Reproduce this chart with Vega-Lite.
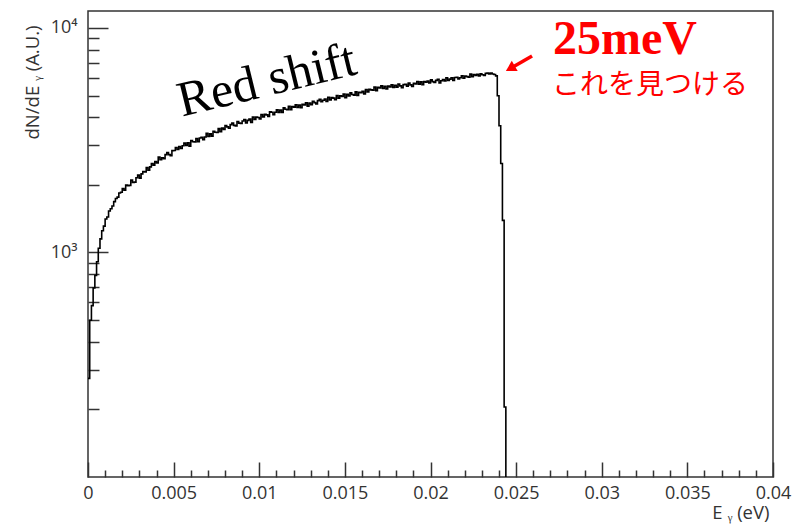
{
  "$schema": "https://vega.github.io/schema/vega-lite/v6.json",
  "width": 685,
  "height": 466,
  "autosize": {"type": "none"},
  "padding": {"left": 88, "top": 11, "right": 19, "bottom": 47},
  "background": "white",
  "config": {
    "view": {"stroke": "#333333", "strokeWidth": 1.5},
    "axis": {
      "domain": false,
      "grid": false,
      "tickColor": "#333333",
      "tickWidth": 1.5,
      "labelColor": "#333333",
      "labelFont": "Open Sans",
      "labelFontSize": 18,
      "titleColor": "#333333",
      "titleFont": "Open Sans",
      "titleFontSize": 18.5,
      "titleFontWeight": "normal"
    }
  },
  "encoding": {
    "x": {
      "field": "e",
      "type": "quantitative",
      "scale": {"domain": [0, 0.04], "nice": false, "zero": false},
      "axis": {
        "values": [0, 0.001, 0.002, 0.003, 0.004, 0.005, 0.006, 0.007, 0.008, 0.009, 0.01, 0.011, 0.012, 0.013, 0.014, 0.015, 0.016, 0.017, 0.018, 0.019, 0.02, 0.021, 0.022, 0.023, 0.024, 0.025, 0.026, 0.027, 0.028, 0.029, 0.03, 0.031, 0.032, 0.033, 0.034, 0.035, 0.036, 0.037, 0.038, 0.039, 0.04],
        "tickSize": {"condition": {"test": "abs(datum.value*200 - round(datum.value*200)) < 1e-6", "value": -15}, "value": -7},
        "labelExpr": "abs(datum.value*200 - round(datum.value*200)) < 1e-6 ? toString(round(datum.value*1000)/1000) : ''",
        "labelFlush": false,
        "labelOverlap": false,
        "labelPadding": 22,
        "title": "E ᵧ (eV)",
        "titleAnchor": "end",
        "titleAlign": "right",
        "titleBaseline": "alphabetic",
        "titleX": 681,
        "titleY": 41
      }
    },
    "y": {
      "field": "n",
      "type": "quantitative",
      "scale": {"type": "log", "domain": [100, 11900], "nice": false},
      "axis": {
        "values": [200, 300, 400, 500, 600, 700, 800, 900, 1000, 2000, 3000, 4000, 5000, 6000, 7000, 8000, 9000, 10000],
        "tickSize": {"condition": {"test": "datum.value == 1000 || datum.value == 10000", "value": -20}, "value": -11},
        "labelExpr": "datum.value == 10000 ? '10⁴' : datum.value == 1000 ? '10³' : ''",
        "labelOverlap": false,
        "labelPadding": 31,
        "title": "dN/dE ᵧ (A.U.)",
        "titleAngle": 270,
        "titleAlign": "right",
        "titleBaseline": "middle",
        "titleX": -56,
        "titleY": 14
      }
    }
  },
  "layer": [
    {
      "data": {
        "values": [
          {"e": 0.0000, "n": 275}, {"e": 0.0001, "n": 499}, {"e": 0.0002, "n": 580}, {"e": 0.0003, "n": 695},
          {"e": 0.0004, "n": 790}, {"e": 0.0005, "n": 910}, {"e": 0.0006, "n": 1045}, {"e": 0.0007, "n": 1150},
          {"e": 0.0008, "n": 1250}, {"e": 0.0009, "n": 1310}, {"e": 0.0010, "n": 1410}, {"e": 0.0011, "n": 1440},
          {"e": 0.0012, "n": 1530}, {"e": 0.0013, "n": 1565}, {"e": 0.0014, "n": 1610}, {"e": 0.0015, "n": 1685},
          {"e": 0.0016, "n": 1740}, {"e": 0.0017, "n": 1765}, {"e": 0.0018, "n": 1840}, {"e": 0.0019, "n": 1855},
          {"e": 0.0020, "n": 1924}, {"e": 0.0021, "n": 1893}, {"e": 0.0022, "n": 1999}, {"e": 0.0023, "n": 1985},
          {"e": 0.0024, "n": 1990}, {"e": 0.0025, "n": 2101}, {"e": 0.0026, "n": 2049}, {"e": 0.0027, "n": 2058},
          {"e": 0.0028, "n": 2151}, {"e": 0.0029, "n": 2213}, {"e": 0.0030, "n": 2144}, {"e": 0.0031, "n": 2240},
          {"e": 0.0032, "n": 2293}, {"e": 0.0033, "n": 2282}, {"e": 0.0034, "n": 2387}, {"e": 0.0035, "n": 2325},
          {"e": 0.0036, "n": 2405}, {"e": 0.0037, "n": 2489}, {"e": 0.0038, "n": 2450}, {"e": 0.0039, "n": 2540},
          {"e": 0.0040, "n": 2504}, {"e": 0.0041, "n": 2663}, {"e": 0.0042, "n": 2589}, {"e": 0.0043, "n": 2642},
          {"e": 0.0044, "n": 2617}, {"e": 0.0045, "n": 2727}, {"e": 0.0046, "n": 2785}, {"e": 0.0047, "n": 2729},
          {"e": 0.0048, "n": 2701}, {"e": 0.0049, "n": 2843}, {"e": 0.0050, "n": 2845}, {"e": 0.0051, "n": 2933},
          {"e": 0.0052, "n": 2876}, {"e": 0.0053, "n": 2964}, {"e": 0.0054, "n": 2906}, {"e": 0.0055, "n": 2988},
          {"e": 0.0056, "n": 3070}, {"e": 0.0057, "n": 3000}, {"e": 0.0058, "n": 3081}, {"e": 0.0059, "n": 2978},
          {"e": 0.0060, "n": 3152}, {"e": 0.0061, "n": 3112}, {"e": 0.0062, "n": 3104}, {"e": 0.0063, "n": 3221},
          {"e": 0.0064, "n": 3116}, {"e": 0.0065, "n": 3234}, {"e": 0.0066, "n": 3257}, {"e": 0.0067, "n": 3183},
          {"e": 0.0068, "n": 3270}, {"e": 0.0069, "n": 3394}, {"e": 0.0070, "n": 3287}, {"e": 0.0071, "n": 3375},
          {"e": 0.0072, "n": 3298}, {"e": 0.0073, "n": 3466}, {"e": 0.0074, "n": 3430}, {"e": 0.0075, "n": 3425},
          {"e": 0.0076, "n": 3560}, {"e": 0.0077, "n": 3448}, {"e": 0.0078, "n": 3580}, {"e": 0.0079, "n": 3536},
          {"e": 0.0080, "n": 3672}, {"e": 0.0081, "n": 3625}, {"e": 0.0082, "n": 3577}, {"e": 0.0083, "n": 3712},
          {"e": 0.0084, "n": 3774}, {"e": 0.0085, "n": 3681}, {"e": 0.0086, "n": 3660}, {"e": 0.0087, "n": 3827},
          {"e": 0.0088, "n": 3770}, {"e": 0.0089, "n": 3754}, {"e": 0.0090, "n": 3853}, {"e": 0.0091, "n": 3912},
          {"e": 0.0092, "n": 3778}, {"e": 0.0093, "n": 3875}, {"e": 0.0094, "n": 3934}, {"e": 0.0095, "n": 3798},
          {"e": 0.0096, "n": 4014}, {"e": 0.0097, "n": 3915}, {"e": 0.0098, "n": 4015}, {"e": 0.0099, "n": 3995},
          {"e": 0.0100, "n": 3935}, {"e": 0.0101, "n": 4119}, {"e": 0.0102, "n": 4019}, {"e": 0.0103, "n": 4121},
          {"e": 0.0104, "n": 4100}, {"e": 0.0105, "n": 4040}, {"e": 0.0106, "n": 4228}, {"e": 0.0107, "n": 4210},
          {"e": 0.0108, "n": 4106}, {"e": 0.0109, "n": 4210}, {"e": 0.0110, "n": 4315}, {"e": 0.0111, "n": 4208},
          {"e": 0.0112, "n": 4313}, {"e": 0.0113, "n": 4209}, {"e": 0.0114, "n": 4406}, {"e": 0.0115, "n": 4342},
          {"e": 0.0116, "n": 4321}, {"e": 0.0117, "n": 4476}, {"e": 0.0118, "n": 4322}, {"e": 0.0119, "n": 4469},
          {"e": 0.0120, "n": 4440}, {"e": 0.0121, "n": 4547}, {"e": 0.0122, "n": 4430}, {"e": 0.0123, "n": 4535},
          {"e": 0.0124, "n": 4415}, {"e": 0.0125, "n": 4567}, {"e": 0.0126, "n": 4540}, {"e": 0.0127, "n": 4646},
          {"e": 0.0128, "n": 4479}, {"e": 0.0129, "n": 4631}, {"e": 0.0130, "n": 4554}, {"e": 0.0131, "n": 4718},
          {"e": 0.0132, "n": 4650}, {"e": 0.0133, "n": 4582}, {"e": 0.0134, "n": 4747}, {"e": 0.0135, "n": 4816},
          {"e": 0.0136, "n": 4698}, {"e": 0.0137, "n": 4762}, {"e": 0.0138, "n": 4828}, {"e": 0.0139, "n": 4702},
          {"e": 0.0140, "n": 4911}, {"e": 0.0141, "n": 4784}, {"e": 0.0142, "n": 4899}, {"e": 0.0143, "n": 4868},
          {"e": 0.0144, "n": 4787}, {"e": 0.0145, "n": 5000}, {"e": 0.0146, "n": 4871}, {"e": 0.0147, "n": 4987},
          {"e": 0.0148, "n": 4955}, {"e": 0.0149, "n": 5071}, {"e": 0.0150, "n": 4890}, {"e": 0.0151, "n": 5058},
          {"e": 0.0152, "n": 4975}, {"e": 0.0153, "n": 5141}, {"e": 0.0154, "n": 5055}, {"e": 0.0155, "n": 5021},
          {"e": 0.0156, "n": 5192}, {"e": 0.0157, "n": 5006}, {"e": 0.0158, "n": 5176}, {"e": 0.0159, "n": 5145},
          {"e": 0.0160, "n": 5217}, {"e": 0.0161, "n": 5086}, {"e": 0.0162, "n": 5319}, {"e": 0.0163, "n": 5193},
          {"e": 0.0164, "n": 5328}, {"e": 0.0165, "n": 5302}, {"e": 0.0166, "n": 5277}, {"e": 0.0167, "n": 5455},
          {"e": 0.0168, "n": 5258}, {"e": 0.0169, "n": 5436}, {"e": 0.0170, "n": 5400}, {"e": 0.0171, "n": 5520},
          {"e": 0.0172, "n": 5371}, {"e": 0.0173, "n": 5494}, {"e": 0.0174, "n": 5346}, {"e": 0.0175, "n": 5515},
          {"e": 0.0176, "n": 5465}, {"e": 0.0177, "n": 5588}, {"e": 0.0178, "n": 5435}, {"e": 0.0179, "n": 5553},
          {"e": 0.0180, "n": 5450}, {"e": 0.0181, "n": 5622}, {"e": 0.0182, "n": 5520}, {"e": 0.0183, "n": 5419},
          {"e": 0.0184, "n": 5595}, {"e": 0.0185, "n": 5606}, {"e": 0.0186, "n": 5504}, {"e": 0.0187, "n": 5681},
          {"e": 0.0188, "n": 5580}, {"e": 0.0189, "n": 5486}, {"e": 0.0190, "n": 5671}, {"e": 0.0191, "n": 5638},
          {"e": 0.0192, "n": 5773}, {"e": 0.0193, "n": 5621}, {"e": 0.0194, "n": 5752}, {"e": 0.0195, "n": 5591},
          {"e": 0.0196, "n": 5772}, {"e": 0.0197, "n": 5728}, {"e": 0.0198, "n": 5797}, {"e": 0.0199, "n": 5691},
          {"e": 0.0200, "n": 5870}, {"e": 0.0201, "n": 5765}, {"e": 0.0202, "n": 5717}, {"e": 0.0203, "n": 5843},
          {"e": 0.0204, "n": 5911}, {"e": 0.0205, "n": 5692}, {"e": 0.0206, "n": 5820}, {"e": 0.0207, "n": 5898},
          {"e": 0.0208, "n": 5801}, {"e": 0.0209, "n": 5998}, {"e": 0.0210, "n": 5841}, {"e": 0.0211, "n": 5920},
          {"e": 0.0212, "n": 5999}, {"e": 0.0213, "n": 5831}, {"e": 0.0214, "n": 6020}, {"e": 0.0215, "n": 6032},
          {"e": 0.0216, "n": 5925}, {"e": 0.0217, "n": 5998}, {"e": 0.0218, "n": 6130}, {"e": 0.0219, "n": 5970},
          {"e": 0.0220, "n": 6111}, {"e": 0.0221, "n": 6072}, {"e": 0.0222, "n": 6034}, {"e": 0.0223, "n": 6234},
          {"e": 0.0224, "n": 6069}, {"e": 0.0225, "n": 6201}, {"e": 0.0226, "n": 6150}, {"e": 0.0227, "n": 6222},
          {"e": 0.0228, "n": 6108}, {"e": 0.0229, "n": 6242}, {"e": 0.0230, "n": 6190}, {"e": 0.0231, "n": 6140},
          {"e": 0.0232, "n": 6277}, {"e": 0.0233, "n": 6290}, {"e": 0.0234, "n": 6240}, {"e": 0.0235, "n": 6302},
          {"e": 0.0236, "n": 6240}, {"e": 0.0237, "n": 6200}, {"e": 0.0238, "n": 6120}, {"e": 0.0239, "n": 4990},
          {"e": 0.0240, "n": 3670}, {"e": 0.0241, "n": 2490}, {"e": 0.0242, "n": 1390}, {"e": 0.0243, "n": 205},
          {"e": 0.0244, "n": 30}, {"e": 0.0245, "n": 30}
        ]
      },
      "mark": {"type": "line", "interpolate": "step-after", "color": "black", "strokeWidth": 1.6, "clip": true}
    },
    {
      "data": {"values": [{"e": 0.00549, "n": 4020, "label": "Red shift"}]},
      "mark": {"type": "text", "font": "Liberation Serif", "fontSize": 50, "align": "left", "baseline": "alphabetic", "angle": 346.3, "color": "black"},
      "encoding": {"text": {"field": "label"}}
    },
    {
      "data": {"values": [{"e": 0.02715, "n": 7656, "label": "25meV"}]},
      "mark": {"type": "text", "font": "Liberation Serif", "fontSize": 48, "fontWeight": "bold", "align": "left", "baseline": "alphabetic", "color": "#ff0000"},
      "encoding": {"text": {"field": "label"}}
    },
    {
      "data": {"values": [{"e": 0.0271, "n": 5521, "label": "これを見つける"}]},
      "mark": {"type": "text", "font": "Noto Sans CJK JP", "fontSize": 28, "align": "left", "baseline": "middle", "color": "#ff0000"},
      "encoding": {"text": {"field": "label"}}
    },
    {
      "data": {"values": [{"e": 0.02593, "n": 7508, "e_end": 0.02471, "n_end": 6637}]},
      "mark": {"type": "rule", "color": "#ff0000", "strokeWidth": 3.5},
      "encoding": {"x2": {"field": "e_end"}, "y2": {"field": "n_end"}}
    },
    {
      "data": {"values": [{"e": 0.02466, "n": 6600}]},
      "mark": {"type": "point", "shape": "triangle-up", "angle": 240, "filled": true, "color": "#ff0000", "opacity": 1, "size": 140}
    }
  ]
}
